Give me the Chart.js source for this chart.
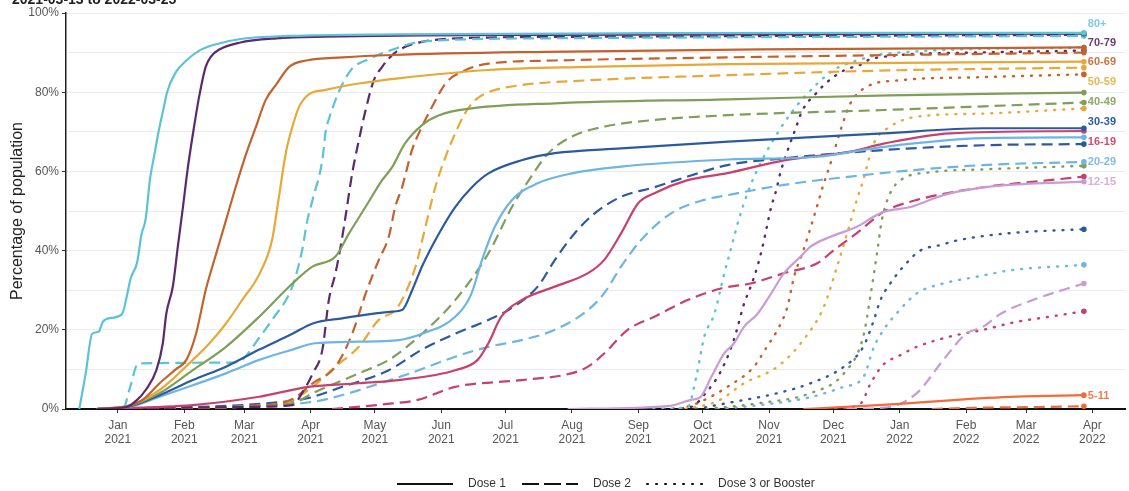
<!DOCTYPE html>
<html>
<head>
<meta charset="utf-8">
<script src="https://cdn.jsdelivr.net/npm/chart.js@4.4.1/dist/chart.umd.min.js"></script>
<style>
  html, body { margin: 0; padding: 0; background: #fff; }
</style>
</head>
<body>
<canvas id="uptakeChart" width="1129" height="491"></canvas>
<script>
'use strict';

// x = days since 1 Jan 2021, y = % of population vaccinated
var dose1_80 = [[-18,0],[-15,9],[-12,19],[-9,19.5],[-7,22],[-3,23],[2,24],[4,28],[6,33],[9,37],[11,44],[13,48],[15,58],[17,64],[19,70],[21,75],[23,80],[27,85],[32,88],[38,90.5],[45,92],[58,93.5],[80,94.2],[130,94.6],[250,94.9],[451,95]];
var dose1_70 = [[-10,0],[4,0.5],[9,2.3],[13,4.8],[18,9.8],[21,16.6],[22.6,24],[25.7,31],[28,41],[30.4,51],[32.7,61],[35.8,72],[38,79],[41,86.4],[43.5,89],[47.4,90.8],[56.7,92.5],[74,93.6],[97,94],[200,94.5],[451,94.8]];
var dose1_60 = [[-10,0],[5,0.8],[12,2.5],[19.5,6.5],[27,10],[32,12.4],[36.5,19],[41,30],[45.8,39],[50.5,47.7],[55,56],[60,64.6],[64.5,71.3],[69,78],[74,82],[80,86.4],[88,88],[105,88.8],[128,89.4],[200,90.2],[300,90.8],[451,91.3]];
var dose1_50 = [[-10,0],[5,0.8],[19.5,4.8],[35,12.4],[42.8,16.6],[50.5,21.6],[58,27.5],[66,34],[72,42.7],[75,52.8],[78.4,64.6],[81.5,71.3],[84.6,76.3],[89,79.4],[97,80.6],[112.5,82.2],[131,83.5],[173,85.6],[219,86.4],[285,87.1],[451,87.7]];
var dose1_40 = [[-10,0],[5,0.8],[19.5,4],[35,9.8],[50.5,15.7],[66,23.3],[81.5,31.7],[91,36],[101.6,38.5],[108,44.4],[115.6,51],[123.4,57.8],[128,61],[134,67],[142,71.7],[150,74.2],[165,75.9],[204,77.2],[285,78.2],[360,79.2],[451,79.9]];
var dose1_30 = [[-10,0],[5,0.6],[19.5,3.5],[35,7.3],[50.5,10.7],[66,15],[81.5,19],[91,21.6],[104.8,22.9],[128,24.6],[132.7,25],[137.4,30],[142,36],[150,44.4],[157.5,51],[165.3,56],[173,59.5],[188.5,62.8],[204,64.6],[235,65.8],[285,67.5],[357.5,69.6],[404,70.9],[451,70.9]];
var dose1_20 = [[-10,0],[5,0.5],[19.5,3.1],[35,6],[50.5,9],[66,12.4],[81.5,15],[92,16.6],[112.5,17],[131,17.4],[142,19],[157.5,23.3],[165,29],[170,37.6],[176,46],[184,52.8],[196,57],[212,59.5],[235,61.2],[285,63],[326.5,63.7],[357.5,66.2],[404,68.4],[451,68.6]];
var dose1_16 = [[-10,0],[35,1],[66,3.1],[89,5.6],[112.5,6.5],[131,7.3],[157.5,9.8],[168,12.4],[173,16.6],[179,23.3],[188.5,27.5],[204,30.9],[219.5,34.3],[227,37.6],[235,44.4],[243,52],[250.5,54.5],[266,57.8],[284,59.5],[311,62.8],[342,65],[357.5,67],[388.5,69.6],[451,70.2]];
var dose1_12 = [[210,0],[258,0.8],[267.5,2.3],[272,3],[277,8],[283,14],[287.7,16.6],[292.4,20.8],[298.6,24],[304.8,29],[311,34.3],[318.8,38.5],[323.4,41],[332.7,43.5],[345,46],[353,48.6],[357.5,49.8],[370,51],[385.4,54],[401,55.7],[416,56.6],[451,57.4]];
var dose1_5 = [[320,0],[342,0.6],[365,1.3],[388.5,2.2],[419.5,3.1],[451,3.5]];

var dose2_80 = [[3,0],[6,6],[9.5,11.5],[53,11.7],[58,12.4],[66,18],[72,22.5],[81.5,31],[86,40],[88.5,47.7],[91,53],[95.5,63],[97,70],[99,74],[101.6,78],[104.8,82],[109.4,86],[115.6,88],[128,90.7],[142,92.8],[200,93.6],[451,94.2]];
var dose2_70 = [[-10,0],[58,0.5],[81.5,1],[86,4],[91,9],[95.5,15],[98.5,27.5],[101.6,34.3],[104,41],[106.3,48.6],[109.4,59.5],[112.5,67.8],[115.6,75.3],[119.5,83],[123.4,86.4],[126.5,88.5],[131,90.6],[142,92.7],[173,93.8],[219.5,94],[451,94.5]];
var dose2_60 = [[-10,0],[66,0.8],[81.5,2.5],[91,6.5],[101.6,10.7],[109.4,19],[115.6,29],[121.8,37.6],[126.5,43.5],[129.5,51],[132.7,56],[137.4,65.5],[142,71.3],[146.7,76.3],[153,82.2],[162,85.5],[173,87.2],[204,88],[285,88.8],[451,90]];
var dose2_50 = [[-10,0],[66,0.8],[81.5,2.3],[91,5.6],[101.6,10.7],[112.5,15.7],[121.8,22.5],[129.6,25],[134,29],[139,36],[143.6,46],[148.2,56],[153,63.7],[157.5,69.6],[162,74.6],[166.8,78],[173,80],[188.5,81.8],[219.5,83],[285,84.3],[360,85.5],[451,86.2]];
var dose2_40 = [[-10,0],[81.5,1.5],[91,4],[112.5,9],[126.5,12.4],[142,19],[157.5,27.5],[173,39.3],[184,51],[193,58.7],[201,64.6],[212,68.8],[227,71.3],[250.5,73],[285,74.2],[357.5,75.5],[451,77.4]];
var dose2_30 = [[-10,0],[84.6,2.3],[104.8,5.6],[126.5,9.8],[142,15],[157.5,19],[173,22.5],[182.3,25],[196,30.9],[204,37.6],[213.3,44.4],[222.6,49.4],[235,53.6],[250.5,56],[266,58.7],[284.6,61.6],[311,63.3],[357.5,65.4],[404,66.6],[451,66.9]];
var dose2_20 = [[-10,0],[84.6,1.4],[131,8],[157.5,13.2],[173,15.7],[188.5,17.4],[204,20],[219.5,25],[227,29.2],[235,36],[244.3,42.7],[258.3,49.4],[273.7,52.8],[284.6,54],[311,56.6],[342,58.7],[373,60.4],[404,61.6],[451,62.4]];
var dose2_16 = [[100,0],[128,1.4],[140,2.3],[157.5,5.6],[188.5,7.3],[211.7,9],[219.5,10.7],[227,14],[238,20],[250.5,23.3],[266,27.5],[282,30.5],[295.5,31.7],[311,34.3],[326.5,36.8],[334,40],[345,44.4],[354.4,48.6],[357.5,49.8],[373,52.8],[404,56],[435,57.8],[451,58.7]];
var dose2_12 = [[340,0],[360,0.5],[373,4],[385.4,12.4],[396,19],[404,20.8],[412,24],[427,27.5],[451,31.7]];
var dose2_5 = [[380,0],[400,0.3],[430,0.5],[451,0.7]];

var dose3_80 = [[250,0],[266,0.5],[270,8],[273.8,18.3],[278.5,24],[283,34],[286,40],[290,48],[295,56],[300,62],[305,67],[312,73],[320,78.5],[334,85.5],[345,88],[360,89.8],[451,91.3]];
var dose3_70 = [[255,0],[267.5,0.5],[275,4.4],[281,9],[286,15],[289,20],[292,26],[295.5,31],[298.6,36],[301,41],[303,46],[305,51],[307,54.5],[309.5,60],[312.5,65],[316.4,70.8],[319.5,75.3],[326.5,80],[331,82.5],[339,85.5],[347,87],[352,88.5],[400,90],[451,90.5]];
var dose3_60 = [[262,0],[270.7,1.5],[284.6,5.6],[297,10.7],[303,15.7],[308,20],[312.6,25.8],[315.7,33.4],[320,40],[325,48.6],[329.6,57],[332.7,62],[337.4,70.4],[342,77.2],[349.7,81.4],[365,83],[404,83.8],[451,84.5]];
var dose3_50 = [[265,0],[280,2],[292.4,6.5],[308,10.7],[320,17.4],[329.6,25.8],[335.8,36],[340.5,44.4],[345,52.8],[348,57.8],[352.9,67],[360.6,71.3],[373,73.8],[404,74.6],[451,75.9]];
var dose3_40 = [[275,0],[300,1.5],[323.4,4],[339,9],[348,18.3],[351.3,28.4],[354.4,39.3],[356.7,47.7],[360.6,54.5],[366,58],[380,59.8],[404,60.5],[451,61.4]];
var dose3_30 = [[270,0],[284.6,1.5],[308,4],[323.4,6.5],[339,10.7],[348,15.7],[353,22.5],[356,27.5],[360.6,31.7],[366.8,36],[374.6,40],[383.9,41.4],[393,42.7],[416.4,44.4],[451,45.4]];
var dose3_20 = [[280,0],[300,1],[323.4,3],[339,5.6],[348,8],[353,15.7],[357.5,20],[363.7,24.2],[373,29.2],[385.4,31.7],[401,33.4],[416.4,35],[451,36.4]];
var dose3_16 = [[335,0],[347,1.5],[351,6],[357,11],[365,13.5],[373,15.7],[388.5,18.3],[404,20],[419.5,22],[435,23.3],[451,24.7]];

var ageGroups = ['80+', '70-79', '60-69', '50-59', '40-49', '30-39', '20-29', '16-19', '12-15', '5-11'];
var groupColors = ['#5BC2D8', '#5B2A6E', '#C4622D', '#E8A838', '#7F9F59', '#2C5AA0', '#6DB5E5', '#C8406B', '#C99CD8', '#F26B38'];
var labelColors = ['#7CCDE0', '#6B3A7D', '#C8733E', '#EBB552', '#8CA86A', '#2F5C9E', '#7BBDE8', '#D04C72', '#D6AEE0', '#F37A4A'];
var dose1 = [dose1_80, dose1_70, dose1_60, dose1_50, dose1_40, dose1_30, dose1_20, dose1_16, dose1_12, dose1_5];
var dose2 = [dose2_80, dose2_70, dose2_60, dose2_50, dose2_40, dose2_30, dose2_20, dose2_16, dose2_12, dose2_5];
var dose3 = [dose3_80, dose3_70, dose3_60, dose3_50, dose3_40, dose3_30, dose3_20, dose3_16, null, null];

var monthTicks = [0, 31, 59, 90, 120, 151, 181, 212, 243, 273, 304, 334, 365, 396, 424, 455];
var monthLabels = [['Jan', '2021'], ['Feb', '2021'], ['Mar', '2021'], ['Apr', '2021'], ['May', '2021'], ['Jun', '2021'],
    ['Jul', '2021'], ['Aug', '2021'], ['Sep', '2021'], ['Oct', '2021'], ['Nov', '2021'], ['Dec', '2021'],
    ['Jan', '2022'], ['Feb', '2022'], ['Mar', '2022'], ['Apr', '2022']];

// where the group names sit on the right (in % units, they are spread out like in the original)
var labelPct = [97.2, 92.4, 87.6, 82.6, 77.5, 72.5, 62.4, 67.4, 57.3, 3.3];

var FONT = '"Liberation Sans", Arial, sans-serif';
var dashes = { 1: [], 2: [11, 6], 3: [1, 8] };

function toPoints(arr) {
    return arr.map(function (p) { return { x: p[0], y: p[1] }; });
}

var datasets = [];
[dose1, dose2, dose3].forEach(function (doseArr, di) {
    doseArr.forEach(function (arr, gi) {
        if (!arr) { return; }
        datasets.push({
            label: ageGroups[gi] + ' dose ' + (di + 1),
            data: toPoints(arr),
            borderColor: groupColors[gi],
            backgroundColor: groupColors[gi],
            pointBackgroundColor: groupColors[gi],
            borderWidth: di === 2 ? 2.4 : 2.2,
            borderDash: dashes[di + 1],
            borderCapStyle: di === 2 ? 'round' : 'butt',
            borderJoinStyle: 'round',
            cubicInterpolationMode: 'monotone',
            pointBorderWidth: 0,
            pointRadius: function (ctx) {
                return ctx.dataIndex === ctx.dataset.data.length - 1 ? 2.8 : 0;
            },
            fill: false
        });
    });
});

var rightLabels = {
    id: 'rightLabels',
    afterDatasetsDraw: function (chart) {
        var ctx = chart.ctx, xs = chart.scales.x, ys = chart.scales.y;
        ctx.save();
        ctx.font = 'bold 11px ' + FONT;
        ctx.textBaseline = 'middle';
        ageGroups.forEach(function (name, i) {
            var last = dose1[i][dose1[i].length - 1];
            ctx.fillStyle = labelColors[i];
            ctx.fillText(name, xs.getPixelForValue(last[0]) + 4, ys.getPixelForValue(labelPct[i]));
        });
        ctx.restore();
    }
};

var doseLegend = {
    id: 'doseLegend',
    afterDraw: function (chart) {
        var ctx = chart.ctx;
        var items = [['Dose 1', 1], ['Dose 2', 2], ['Dose 3 or Booster', 3]];
        var x = 397, y = 484;
        ctx.save();
        ctx.font = '12px ' + FONT;
        ctx.textBaseline = 'middle';
        ctx.fillStyle = '#333';
        ctx.strokeStyle = '#111';
        ctx.lineWidth = 2.2;
        items.forEach(function (it) {
            ctx.setLineDash(it[1] === 2 ? [17, 5] : dashes[it[1]]);
            ctx.lineCap = it[1] === 3 ? 'round' : 'butt';
            ctx.beginPath();
            ctx.moveTo(x, y);
            ctx.lineTo(x + 56, y);
            ctx.stroke();
            ctx.setLineDash([]);
            ctx.fillText(it[0], x + 71, y);
            x += 71 + ctx.measureText(it[0]).width + 16;
        });
        // sub title, cut at the top edge as in the source
        ctx.font = 'bold 14px ' + FONT;
        ctx.textBaseline = 'alphabetic';
        ctx.fillStyle = '#222';
        ctx.fillText('2021-03-13 to 2022-03-25', 12, 4);
        ctx.restore();
    }
};

var uptakeChart = new Chart(document.getElementById('uptakeChart'), {
    type: 'line',
    data: { datasets: datasets },
    options: {
        responsive: false,
        animation: false,
        layout: { padding: { top: 13, right: 0, left: 0, bottom: 0 } },
        plugins: {
            legend: { display: false },
            tooltip: { enabled: false }
        },
        scales: {
            x: {
                type: 'linear',
                min: -24.2,
                max: 470.2,
                afterBuildTicks: function (axis) {
                    axis.ticks = monthTicks.map(function (v) { return { value: v }; });
                },
                afterFit: function (axis) { axis.height = 82; },
                ticks: {
                    autoSkip: false,
                    maxRotation: 0,
                    color: '#555',
                    font: { size: 12, family: FONT },
                    padding: 5,
                    callback: function (value) {
                        var i = monthTicks.indexOf(value);
                        return i >= 0 ? monthLabels[i] : '';
                    }
                },
                grid: { drawOnChartArea: false, tickLength: 4, color: '#333' },
                border: { display: true, color: '#111', width: 2 }
            },
            y: {
                min: 0,
                max: 100,
                afterFit: function (axis) { axis.width = 66; },
                ticks: {
                    stepSize: 10,
                    color: '#555',
                    font: { size: 12, family: FONT },
                    padding: 3,
                    callback: function (v) { return v % 20 === 0 ? v + '%' : ''; }
                },
                grid: {
                    color: '#EBEBEB',
                    tickLength: 4,
                    tickColor: function (ctx) {
                        return ctx.tick && ctx.tick.value % 20 === 0 ? '#333' : 'rgba(0,0,0,0)';
                    }
                },
                border: { display: true, color: '#222', width: 1.5 },
                title: {
                    display: true,
                    text: 'Percentage of population',
                    color: '#222',
                    font: { size: 16, family: FONT },
                    padding: { top: 8, bottom: 0 }
                }
            }
        }
    },
    plugins: [rightLabels, doseLegend]
});
</script>
</body>
</html>
